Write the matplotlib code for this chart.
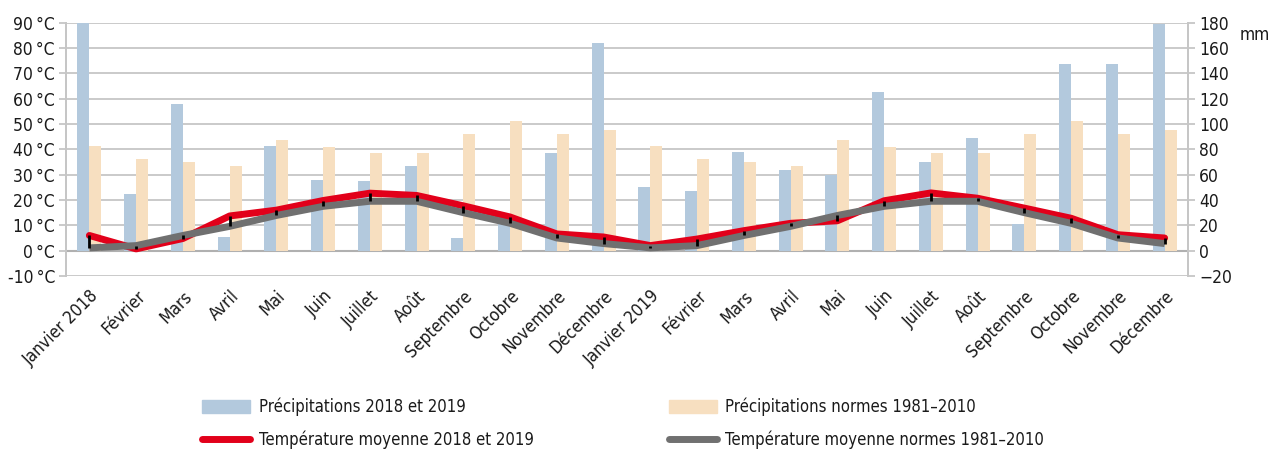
import matplotlib
matplotlib.use("Agg")
import matplotlib.pyplot as plt
import matplotlib.patches as mpatches
import matplotlib.lines as mlines
import numpy as np

plt.rcParams["font.family"] = ["Liberation Sans Narrow", "DejaVu Sans"]
plt.rcParams["font.stretch"] = "condensed"

months = ["Janvier 2018", "Février", "Mars", "Avril", "Mai", "Juin", "Juillet",
          "Août", "Septembre", "Octobre", "Novembre", "Décembre",
          "Janvier 2019", "Février", "Mars", "Avril", "Mai", "Juin", "Juillet",
          "Août", "Septembre", "Octobre", "Novembre", "Décembre"]

# precipitation, mm
precip = [185, 45, 116, 11, 83, 56, 55, 67, 10, 24, 77, 164,
          50, 47, 78, 64, 60, 125, 70, 89, 21, 147, 147, 179]
precip_norm = [83, 72, 70, 67, 87, 82, 77, 77, 92, 102, 92, 95,
               83, 72, 70, 67, 87, 82, 77, 77, 92, 102, 92, 95]

# mean temperature, °C
temp = [6.0, 0.7, 4.8, 13.7, 16.0, 19.8, 22.7, 21.8, 17.7, 13.3, 6.6, 5.4,
        2.0, 4.6, 7.9, 10.8, 11.8, 19.7, 22.8, 20.7, 16.8, 12.8, 6.3, 5.0]
temp_norm = [1.1, 2.0, 6.0, 9.6, 13.9, 17.5, 19.5, 19.5, 15.0, 10.8, 5.0, 2.8,
             1.1, 2.0, 6.0, 9.6, 13.9, 17.5, 19.5, 19.5, 15.0, 10.8, 5.0, 2.8]

c_blue = "#b3c9dd"
c_orange = "#f7dfc0"
c_red = "#e2001a"
c_gray = "#707070"
c_grid = "#c6c6c6"
c_text = "#1a1a1a"
fsz = 12

fig = plt.figure(figsize=(12.82, 4.5), dpi=100)
ax_p = fig.add_axes([66 / 1282, 1 - 276 / 450, 1122 / 1282, 253.3 / 450])
x = np.arange(len(months))
w = 0.255

ax_p.bar(x - w / 2, precip, width=w, color=c_blue, zorder=2)
ax_p.bar(x + w / 2, precip_norm, width=w, color=c_orange, zorder=2)
ax_p.set_ylim(-20, 180)
ax_p.set_xlim(-0.5, len(months) - 0.5)
ax_p.set_yticks(np.arange(-20, 181, 20))
ax_p.grid(axis="y", color=c_grid, linewidth=1.3, zorder=0)
ax_p.set_axisbelow(True)
ax_p.axhline(0, color="#b0b0b0", linewidth=1.5, zorder=1)

ax_t = ax_p.twinx()
ax_p.yaxis.set_ticks_position("right")
ax_p.yaxis.set_label_position("right")
ax_t.yaxis.set_ticks_position("left")
ax_t.yaxis.set_label_position("left")
ax_t.set_ylim(-10, 90)
ax_t.set_yticks(np.arange(-10, 91, 10))
ax_t.set_yticklabels([f"{v}\u2009°C" for v in range(-10, 91, 10)])
ax_t.plot(x, temp, color=c_red, linewidth=5, solid_capstyle="round", zorder=3)
ax_t.plot(x, temp_norm, color=c_gray, linewidth=5, solid_capstyle="butt", zorder=4)
# high-low lines between the two temperature series
ax_t.vlines(x, np.minimum(temp, temp_norm), np.maximum(temp, temp_norm),
            color="black", linewidth=2, zorder=5)

for a in (ax_p, ax_t):
    for s in ("top", "bottom"):
        a.spines[s].set_visible(False)
    a.spines["left"].set_color(c_grid)
    a.spines["right"].set_color(c_grid)
    a.spines["left"].set_linewidth(1.3)
    a.spines["right"].set_linewidth(1.3)
    a.tick_params(axis="y", length=5, color=c_grid, width=1.3,
                  labelsize=12.5, labelcolor=c_text, pad=3)

ax_p.set_xticks(x)
ax_p.set_xticklabels(months, rotation=45, ha="right", rotation_mode="anchor",
                     fontsize=12.5, color=c_text)
ax_p.tick_params(axis="x", length=0, pad=8)

fig.text(1240 / 1282, 1 - 35 / 450, "mm", fontsize=12.5, va="center",
         color=c_text)

handles = [
    mpatches.Patch(color=c_blue, label="Précipitations 2018 et 2019"),
    mlines.Line2D([], [], color=c_red, linewidth=5, solid_capstyle="round",
                  label="Température moyenne 2018 et 2019"),
    mpatches.Patch(color=c_orange, label="Précipitations normes 1981\u20132010"),
    mlines.Line2D([], [], color=c_gray, linewidth=5, solid_capstyle="round",
                  label="Température moyenne normes 1981\u20132010"),
]
leg = fig.legend(handles=handles, ncol=2, loc="upper left",
                 bbox_to_anchor=(187 / 1282, 1 - 383 / 450), frameon=False,
                 fontsize=fsz, handlelength=2.9, handleheight=0.8,
                 handletextpad=0.5, columnspacing=8.1, labelspacing=0.85)
for t in leg.get_texts():
    t.set_color(c_text)

fig.savefig("out.png", dpi=100)
